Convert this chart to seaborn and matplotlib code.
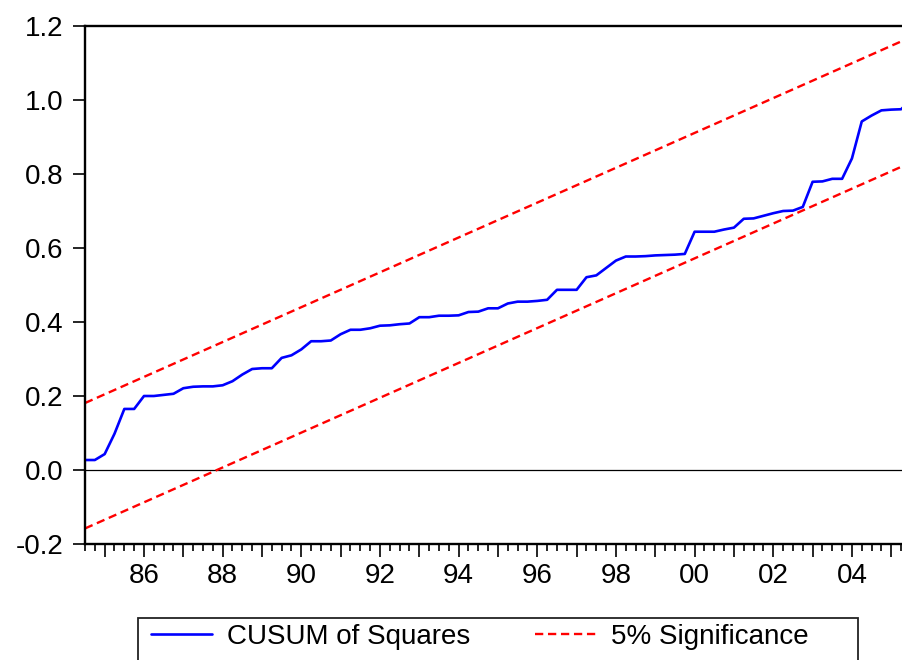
import matplotlib
matplotlib.use("Agg")
import matplotlib.pyplot as plt
from matplotlib.patches import Rectangle
from matplotlib.ticker import FixedLocator, FixedFormatter
import numpy as np
import pandas as pd
import seaborn as sns

# ---- data (quarterly, 1984Q3 onward) ----
start_quarter = "1984Q3"
cusum_sq = [
    0.027, 0.027, 0.043, 0.098, 0.165, 0.165, 0.200, 0.200, 0.203, 0.206,
    0.221, 0.225, 0.226, 0.226, 0.229, 0.240, 0.258, 0.273, 0.275, 0.275,
    0.303, 0.310, 0.326, 0.348, 0.348, 0.350, 0.367, 0.379, 0.379, 0.383,
    0.390, 0.391, 0.394, 0.396, 0.413, 0.413, 0.417, 0.417, 0.418, 0.427,
    0.428, 0.437, 0.437, 0.450, 0.455, 0.455, 0.457, 0.460, 0.487, 0.487,
    0.487, 0.521, 0.526, 0.546, 0.566, 0.577, 0.577, 0.578, 0.580, 0.581,
    0.582, 0.584, 0.644, 0.644, 0.644, 0.650, 0.655, 0.679, 0.680, 0.687,
    0.694, 0.700, 0.701, 0.711, 0.779, 0.780, 0.787, 0.787, 0.842, 0.942,
    0.958, 0.972, 0.974, 0.975, 1.000,
]
band_x = [1984.5, 2005.5]
band_upper = [0.181, 1.170]
band_lower = [-0.158, 0.831]
year_labels = ["86", "88", "90", "92", "94", "96", "98", "00", "02", "04"]
label_years = [1986, 1988, 1990, 1992, 1994, 1996, 1998, 2000, 2002, 2004]
y_ticks = [-0.2, 0.0, 0.2, 0.4, 0.6, 0.8, 1.0, 1.2]

periods = pd.period_range(start_quarter, periods=len(cusum_sq), freq="Q")
xq = periods.year + (periods.quarter - 1) / 4.0

sns.set_theme(style="white")
plt.rcParams["font.family"] = ["Liberation Sans", "DejaVu Sans"]
plt.rcParams["axes.unicode_minus"] = False
plt.rcParams["text.color"] = "black"
plt.rcParams["xtick.color"] = "black"
plt.rcParams["ytick.color"] = "black"
plt.rcParams["xtick.labelcolor"] = "black"
plt.rcParams["ytick.labelcolor"] = "black"

fig = plt.figure(figsize=(9.03, 6.6), dpi=100)
ax = fig.add_axes([85 / 903, 1 - 544 / 660, 818 / 903, 518 / 660])

df = pd.DataFrame({"x": xq, "y": cusum_sq})
sns.lineplot(data=df, x="x", y="y", ax=ax, color="#0000FF", lw=1.9,
             label="CUSUM of Squares")
dfu = pd.DataFrame({"x": band_x, "y": band_upper})
dfl = pd.DataFrame({"x": band_x, "y": band_lower})
sns.lineplot(data=dfu, x="x", y="y", ax=ax, color="#FF0000", lw=1.7,
             linestyle=(0, (3.5, 2)), label="5% Significance")
sns.lineplot(data=dfl, x="x", y="y", ax=ax, color="#FF0000", lw=1.7,
             linestyle=(0, (3.5, 2)))
ax.axhline(0, color="black", lw=0.9, zorder=1)

ax.set_xlim(1984.5, 1984.5 + 818 / 39.33)
ax.set_ylim(-0.2, 1.2)
ax.set_xlabel("")
ax.set_ylabel("")

# x ticks: yearly major (labels every two years), quarterly minor
years = list(range(1985, 2006))
ax.xaxis.set_major_locator(FixedLocator(years))
lab = {y: l for y, l in zip(label_years, year_labels)}
ax.xaxis.set_major_formatter(FixedFormatter([lab.get(y, "") for y in years]))
ax.xaxis.set_minor_locator(FixedLocator(np.arange(1984.5, 2005.5, 0.25)))
ax.set_yticks(y_ticks)
ax.set_yticklabels([f"{v:.1f}" for v in y_ticks])

ax.tick_params(axis="x", which="major", direction="out", length=9.5, width=1.2,
               color="black", bottom=True, labelsize=20, pad=4,
               labelcolor="black")
ax.tick_params(axis="x", which="minor", direction="out", length=5, width=1.2,
               color="black", bottom=True)
ax.tick_params(axis="y", which="major", direction="out", length=8.5, width=1.2,
               color="black", left=True, labelsize=20, pad=7,
               labelcolor="black")

for s in ["left", "top", "bottom"]:
    ax.spines[s].set_visible(True)
    ax.spines[s].set_color("black")
    ax.spines[s].set_linewidth(1.7)
ax.spines["right"].set_visible(False)

handles, labels = ax.get_legend_handles_labels()
leg = ax.legend(handles, labels, loc="upper left",
                bbox_to_anchor=(151 / 903, 1 - 624 / 660),
                bbox_transform=fig.transFigure, ncol=2, frameon=False,
                fontsize=20, handlelength=2.2, handletextpad=0.52,
                columnspacing=2.35, borderpad=0, borderaxespad=0)
for t in leg.get_texts():
    t.set_color("black")
fig.add_artist(Rectangle((138 / 903, 1 - 700 / 660), 720 / 903, 82 / 660,
                         transform=fig.transFigure, fill=False,
                         edgecolor="#222222", lw=1.3, clip_on=False))

fig.savefig("out.png", dpi=100)
